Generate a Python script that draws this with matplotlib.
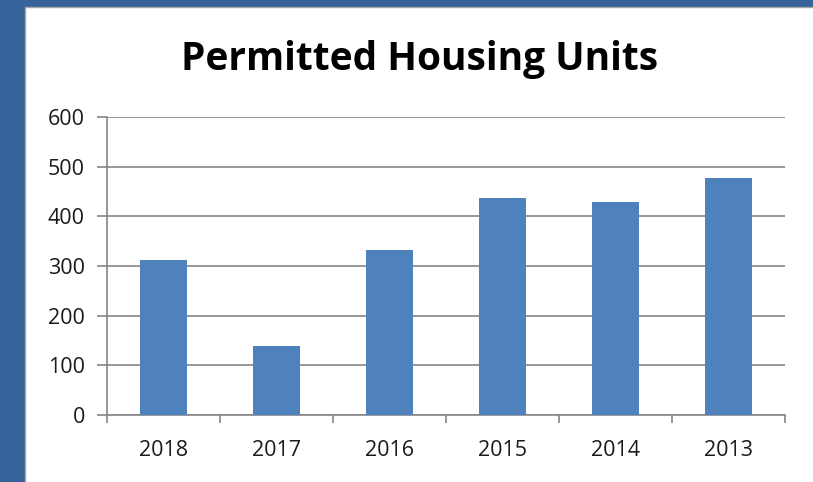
import matplotlib.pyplot as plt
import matplotlib.patches as mpatches
import numpy as np

years = ['2018', '2017', '2016', '2015', '2014', '2013']
units = [313, 138, 332, 436, 428, 477]
y_ticks = [0, 100, 200, 300, 400, 500, 600]

BAR_COLOR = '#4F81BD'
AXIS_COLOR = '#868686'
BORDER_COLOR = '#37639A'

plt.rcParams['font.family'] = ['Open Sans', 'DejaVu Sans']

fig = plt.figure(figsize=(8.13, 4.82), dpi=100, facecolor=BORDER_COLOR)

# white chart panel inside the dark blue frame (runs off the right and bottom edges)
panel = mpatches.Rectangle((25 / 813, -0.1), 1.2, 1.1 - 7 / 482,
                           transform=fig.transFigure, facecolor='white',
                           edgecolor='#a6a6a6', linewidth=1.0, zorder=-5)
fig.patches.append(panel)

ax = fig.add_axes([107 / 813, 67 / 482, (785 - 107) / 813, (415 - 117) / 482])
ax.set_facecolor('none')
ax.set_zorder(2)

x = np.arange(len(years))
ax.bar(x, units, width=0.41, color=BAR_COLOR, zorder=3)

ax.set_xlim(-0.5, len(years) - 0.5)
ax.set_ylim(0, 600)
ax.set_yticks(y_ticks)
ax.set_xticks(x)
ax.set_xticklabels(years)
# x ticks sit on the category boundaries
ax.set_xticks(np.arange(len(years) + 1) - 0.5, minor=True)
ax.tick_params(axis='x', which='major', length=0, pad=18, labelsize=15.5, labelcolor='#1a1a1a')
ax.tick_params(axis='x', which='minor', length=6, width=1.2, color=AXIS_COLOR, direction='out')
ax.tick_params(axis='y', length=7, width=1.2, color=AXIS_COLOR, direction='out', pad=9,
               labelsize=15.5, labelcolor='#1a1a1a')

ax.yaxis.grid(True, color=AXIS_COLOR, linewidth=1.2, zorder=0)
ax.set_axisbelow(True)
for side in ['top', 'right']:
    ax.spines[side].set_visible(False)
for side in ['left', 'bottom']:
    ax.spines[side].set_color(AXIS_COLOR)
    ax.spines[side].set_linewidth(1.2)

fig.text(420 / 813, 1 - 70 / 482, 'Permitted Housing Units', ha='center', va='baseline',
         fontsize=28, fontweight='bold', color='black', zorder=3)

fig.savefig('out.png', dpi=100, facecolor=fig.get_facecolor())
